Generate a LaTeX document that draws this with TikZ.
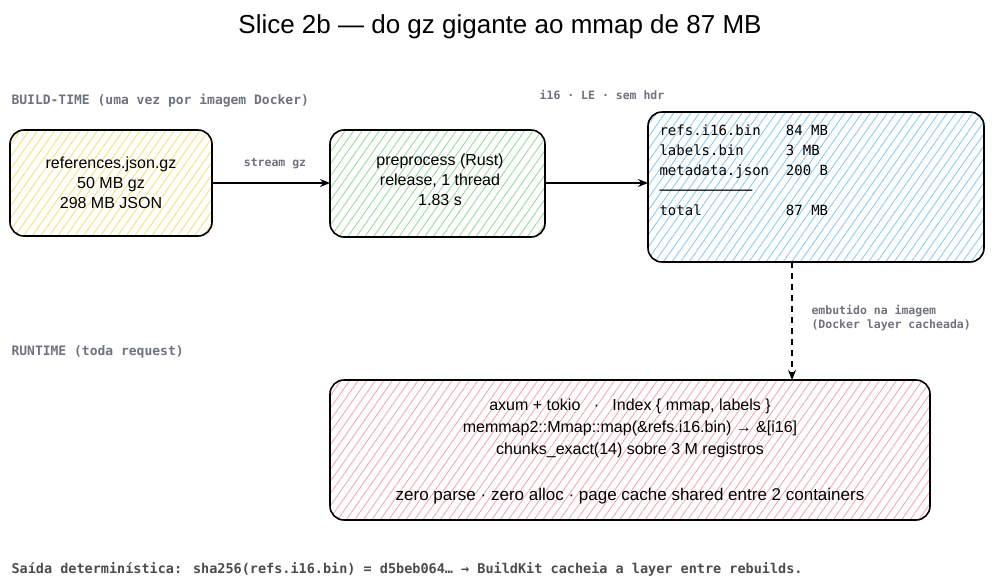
\documentclass[tikz,border=0pt]{standalone}
\usepackage{fontspec}
\setmainfont{Liberation Sans}
\newfontfamily\monof{DejaVu Sans Mono}
\usetikzlibrary{patterns.meta,arrows.meta}
\definecolor{yel}{HTML}{F5E07A}
\definecolor{grn}{HTML}{9ADB9A}
\definecolor{blu}{HTML}{8CCBF5}
\definecolor{rd}{HTML}{F5AAAA}
\definecolor{gtext}{HTML}{6E737C}
\begin{document}
\begin{tikzpicture}[x=1pt,y=-1pt,
  box/.style={draw=black,line width=1.6pt,rounded corners=14pt},
  hatch/.style={pattern={Lines[angle=55,distance=7pt,line width=0.9pt]},pattern color=#1},
  lbl/.style={font=\monof\bfseries\fontsize{11.5}{14}\selectfont,text=gtext},
  body/.style={font=\fontsize{16}{20}\selectfont,align=center},
  arr/.style={-{Stealth[length=10pt,width=8pt]},line width=1.6pt}]
\useasboundingbox (0,0) rectangle (1008,587);
\node[font=\fontsize{26}{30}\selectfont] (title) at (500,27) {Slice 2b — do gz gigante ao mmap de 87 MB};
\node[lbl,anchor=west,font=\monof\bfseries\fontsize{13}{15}\selectfont] (bt) at (8,101) {BUILD-TIME (uma vez por imagem Docker)};
\node[lbl,anchor=west,font=\monof\bfseries\fontsize{13}{15}\selectfont] (rt) at (8,352) {RUNTIME (toda request)};
\node[lbl] (hdr) at (602,95) {i16 · LE · sem hdr};

\draw[box,hatch=yel] (10,130) rectangle (212,236);
\node[body] (ref) at (111,183) {references.json.gz\\50 MB gz\\298 MB JSON};
\coordinate (refE) at (212,183);

\draw[box,hatch=grn] (330,130) rectangle (545,237);
\node[body] (pre) at (440,180) {preprocess (Rust)\\release, 1 thread\\1.83 s};
\coordinate (preW) at (330,183);
\coordinate (preE) at (545,183);

\draw[box,hatch=blu] (648,112) rectangle (984,262);
\node[anchor=north west,align=left,font=\monof\fontsize{14}{20}\selectfont] (bin) at (656,121)
 {refs.i16.bin\ \ \ 84 MB\\labels.bin\ \ \ \ \ 3 MB\\metadata.json\ \ 200 B\\───────────\\total\ \ \ \ \ \ \ \ \ \ 87 MB};
\coordinate (blW) at (648,183);
\coordinate (blS) at (792,262);

\draw[box,hatch=rd] (330,380) rectangle (930,520);
\node[body,font=\fontsize{16}{22}\selectfont] (rtbox) at (630,428) {axum + tokio\ \ \ ·\ \ \ Index \{ mmap, labels \}\\memmap2::Mmap::map(\&refs.i16.bin) → \&[i16]\\chunks\_exact(14) sobre 3 M registros};
\node[body,font=\fontsize{17}{20}\selectfont] (zp) at (630,496) {zero parse · zero alloc · page cache shared entre 2 containers};
\coordinate (rdN) at (792,380);

\draw[arr] (refE) -- (preW);
\node[lbl] (sg) at (275,164) {stream gz};
\draw[arr] (preE) -- (blW);
\draw[arr,dashed,dash pattern=on 6pt off 5pt] (blS) -- (rdN);
\node[lbl,anchor=west,align=left] (emb) at (808,318) {embutido na imagem\\(Docker layer cacheada)};

\node[lbl,anchor=west,text=black!70,font=\monof\bfseries\fontsize{13.5}{15}\selectfont] (foot) at (8,569) {Saída determinística: sha256(refs.i16.bin) = d5beb064… → BuildKit cacheia a layer entre rebuilds.};
\end{tikzpicture}
\end{document}
